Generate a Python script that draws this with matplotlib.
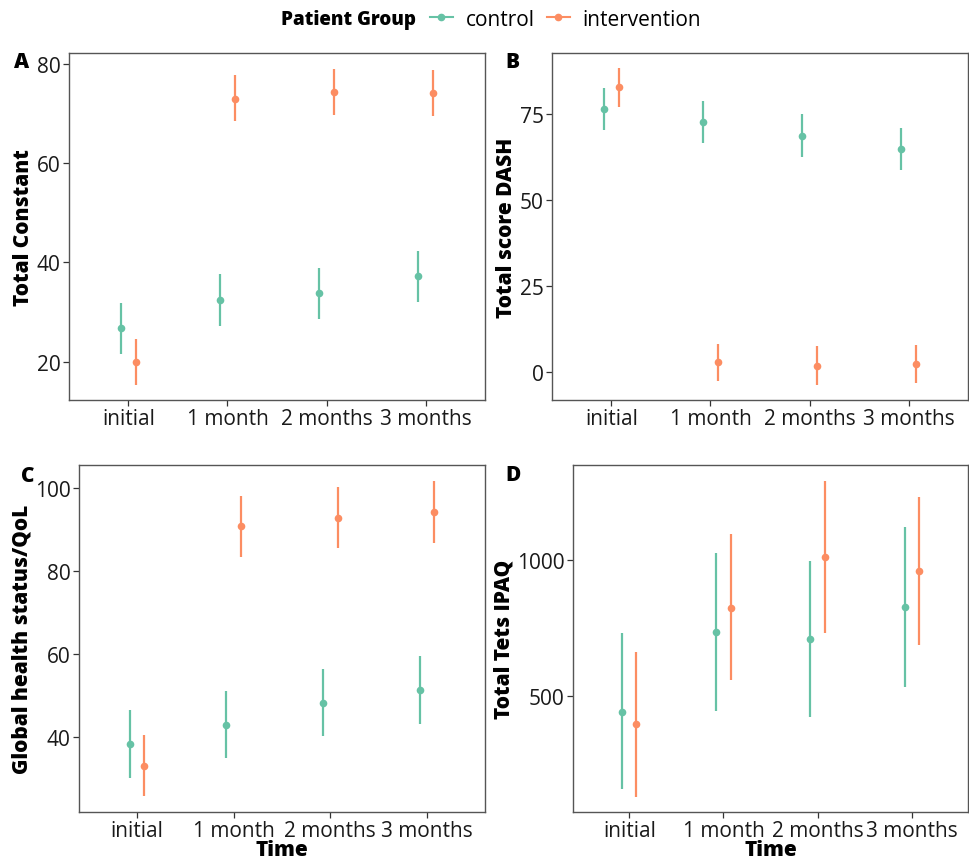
import matplotlib
matplotlib.use("Agg")
import matplotlib.pyplot as plt
from matplotlib.lines import Line2D
import numpy as np

# ── Data ─────────────────────────────────────────────────────────────────────
times = ["initial", "1 month", "2 months", "3 months"]

constant_ctrl = [26.8, 32.5, 33.8, 37.2]
constant_ctrl_lo = [21.5, 27.2, 28.6, 32.0]
constant_ctrl_hi = [31.9, 37.7, 38.9, 42.4]
constant_int = [20.0, 73.0, 74.4, 74.2]
constant_int_lo = [15.4, 68.5, 69.7, 69.5]
constant_int_hi = [24.6, 77.7, 79.0, 78.8]

dash_ctrl = [76.3, 72.6, 68.6, 64.7]
dash_ctrl_lo = [70.1, 66.4, 62.5, 58.5]
dash_ctrl_hi = [82.4, 78.7, 74.8, 70.9]
dash_int = [82.6, 2.7, 1.7, 2.2]
dash_int_lo = [76.9, -2.8, -3.8, -3.3]
dash_int_hi = [88.2, 8.2, 7.4, 7.8]

qol_ctrl = [38.4, 43.0, 48.3, 51.4]
qol_ctrl_lo = [30.3, 34.9, 40.2, 43.3]
qol_ctrl_hi = [46.6, 51.1, 56.5, 59.5]
qol_int = [33.1, 90.9, 92.9, 94.3]
qol_int_lo = [25.8, 83.5, 85.6, 86.9]
qol_int_hi = [40.6, 98.2, 100.3, 101.7]

ipaq_ctrl = [442, 736, 709, 827]
ipaq_ctrl_lo = [155, 445, 421, 532]
ipaq_ctrl_hi = [730, 1026, 996, 1120]
ipaq_int = [397, 825, 1012, 960]
ipaq_int_lo = [129, 557, 732, 687]
ipaq_int_hi = [663, 1095, 1292, 1233]

C_CTRL = "#66C2A5"
C_INT = "#FC8D62"
FONT = "Open Sans"

plt.rcParams["font.family"] = [FONT, "DejaVu Sans"]

fig = plt.figure(figsize=(9.7, 8.62), dpi=100)

# axes rectangles in figure fractions (left, bottom, width, height)
rects = {
    "A": (69 / 970, 1 - 401 / 862, (485 - 69) / 970, 347 / 862),
    "B": (552 / 970, 1 - 401 / 862, (968 - 552) / 970, 347 / 862),
    "C": (79 / 970, 1 - 813 / 862, (485 - 79) / 970, 347 / 862),
    "D": (573 / 970, 1 - 813 / 862, (968 - 573) / 970, 347 / 862),
}

panels = [
    ("A", "Total Constant", (constant_ctrl, constant_ctrl_lo, constant_ctrl_hi),
     (constant_int, constant_int_lo, constant_int_hi), (12.3, 82.2), [20, 40, 60, 80], False),
    ("B", "Total score DASH", (dash_ctrl, dash_ctrl_lo, dash_ctrl_hi),
     (dash_int, dash_int_lo, dash_int_hi), (-8.2, 92.6), [0, 25, 50, 75], False),
    ("C", "Global health status/QoL", (qol_ctrl, qol_ctrl_lo, qol_ctrl_hi),
     (qol_int, qol_int_lo, qol_int_hi), (22.0, 105.6), [40, 60, 80, 100], True),
    ("D", "Total Tets IPAQ", (ipaq_ctrl, ipaq_ctrl_lo, ipaq_ctrl_hi),
     (ipaq_int, ipaq_int_lo, ipaq_int_hi), (72, 1350), [500, 1000], True),
]

x = np.arange(len(times))
dodge = 0.075

for tag, ylabel, ctrl, intv, ylim, yticks, show_xlabel in panels:
    ax = fig.add_axes(rects[tag])
    for (mean, lo, hi), off, col in ((ctrl, -dodge, C_CTRL), (intv, dodge, C_INT)):
        ax.vlines(x + off, lo, hi, color=col, lw=1.6)
        ax.plot(x + off, mean, "o", color=col, ms=5.5, mec="none")
    ax.set_xlim(-0.6, len(times) - 0.4)
    ax.set_ylim(*ylim)
    ax.set_yticks(yticks)
    ax.set_xticks(x)
    ax.set_xticklabels(times)
    ax.tick_params(labelsize=15, color="#333333", length=4, width=0.9,
                   labelcolor="#1a1a1a", pad=2)
    for sp in ax.spines.values():
        sp.set_color("#555555")
        sp.set_linewidth(1.0)
    ax.set_ylabel(ylabel, fontsize=15, fontweight="heavy", labelpad=2)
    if show_xlabel:
        ax.set_xlabel("Time", fontsize=15, fontweight="heavy", labelpad=-2)

# panel tags
for tag, (px, py) in {"A": (22, 63), "B": (512, 63), "C": (28, 477), "D": (513, 476)}.items():
    fig.text(px / 970, 1 - py / 862, tag, fontsize=15, fontweight="heavy",
             ha="center", va="center")

# legend along the top
fig.text(416 / 970, 1 - 20 / 862, "Patient Group", fontsize=13.5, fontweight="heavy",
         ha="right", va="center")
handles = [Line2D([], [], color=C_CTRL, marker="o", ms=4.5, lw=1.5),
           Line2D([], [], color=C_INT, marker="o", ms=4.5, lw=1.5)]
fig.legend(handles, ["control", "intervention"], loc="center left",
           bbox_to_anchor=(430 / 970, 1 - 20 / 862), ncol=2, frameon=False,
           fontsize=15, handlelength=1.1, handletextpad=0.6, columnspacing=0.6,
           borderaxespad=0, borderpad=0)

fig.savefig("out.png", dpi=100)
